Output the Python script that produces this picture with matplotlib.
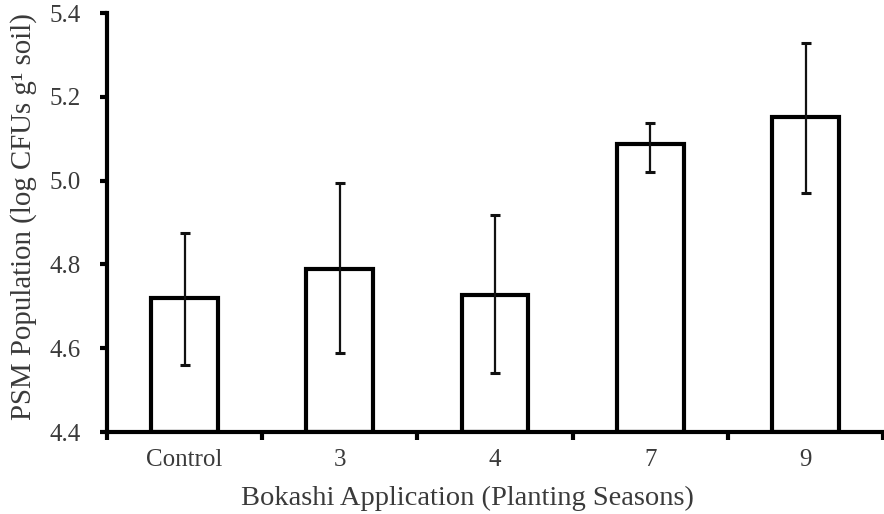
import matplotlib

matplotlib.use("Agg")
import matplotlib.pyplot as plt
import numpy as np

categories = ["Control", "3", "4", "7", "9"]
means = [4.721, 4.788, 4.727, 5.087, 5.153]
err_upper = [4.875, 4.994, 4.918, 5.138, 5.328]
err_lower = [4.560, 4.588, 4.541, 5.020, 4.970]

plt.rcParams["font.family"] = ["Liberation Serif", "DejaVu Serif"]
text_color = "#3a3a3a"

fig = plt.figure(figsize=(8.84, 5.14), dpi=100)
ax = fig.add_axes([0.121, 0.1595, 0.878, 0.8152])

x = np.arange(len(categories))
means_arr = np.array(means)
yerr = np.vstack([means_arr - np.array(err_lower), np.array(err_upper) - means_arr])

ax.bar(x, means_arr - 4.4, bottom=4.4, width=0.43, facecolor="white",
       edgecolor="black", linewidth=3.0, zorder=2)
ax.errorbar(x, means_arr, yerr=yerr, fmt="none", ecolor="#111111",
            elinewidth=1.6, capsize=3.4, capthick=2.2, zorder=3)

ax.set_xlim(-0.5, len(categories) - 0.5)
ax.set_ylim(4.4, 5.4)
ax.set_yticks([4.4, 4.6, 4.8, 5.0, 5.2, 5.4])
ax.set_yticklabels(["4.4", "4.6", "4.8", "5.0", "5.2", "5.4"])

# category labels centred, ticks on category boundaries
ax.set_xticks(np.arange(-0.5, len(categories), 1.0))
ax.set_xticklabels([])
ax.set_xticks(x, minor=True)
ax.set_xticklabels(categories, minor=True)
ax.tick_params(axis="x", which="minor", length=0, pad=12, labelsize=18, labelcolor=text_color)
ax.tick_params(axis="x", which="major", length=6, width=3, direction="out")
ax.tick_params(axis="y", length=5, width=3, direction="out", pad=14, labelsize=18,
               labelcolor=text_color)

for side in ("top", "right"):
    ax.spines[side].set_visible(False)
for side in ("left", "bottom"):
    ax.spines[side].set_linewidth(3)
ax.spines["bottom"].set_zorder(4)

ax.set_xlabel("Bokashi Application (Planting Seasons)", fontsize=20.5, color=text_color)
ax.xaxis.set_label_coords(0.465, -0.128)
ax.set_ylabel("PSM Population (log CFUs g¹ soil)", fontsize=20.8, color=text_color)
ax.yaxis.set_label_coords(-0.090, 0.515)

fig.savefig("out.png", dpi=100)
plt.close(fig)
